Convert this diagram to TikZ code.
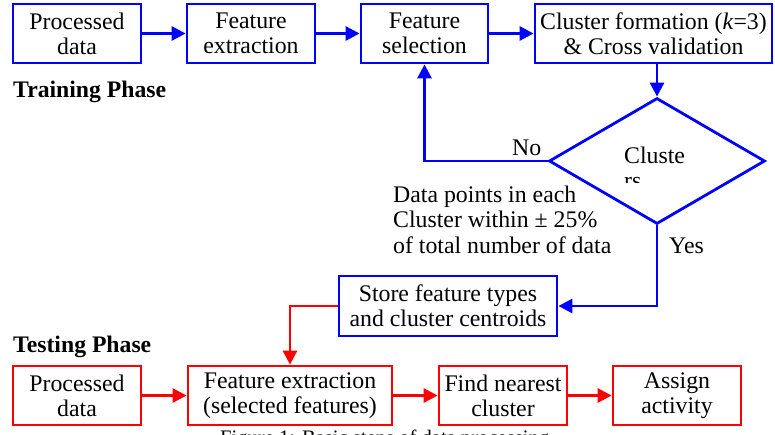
\documentclass[tikz,border=0pt]{standalone}
\usepackage{fontspec}
\setmainfont{Liberation Serif}
\usetikzlibrary{arrows.meta,shapes.geometric}

\definecolor{trainblue}{RGB}{0,0,255}
\definecolor{testred}{RGB}{255,0,0}

\tikzset{
  txt/.style={font=\fontsize{23.8}{25}\selectfont},
  box/.style={txt, draw, line width=2.8pt, align=center, inner sep=0pt,
              minimum height=59pt},
  trainbox/.style={box, draw=trainblue},
  testbox/.style={box, draw=testred},
  flow/.style={line width=2.8pt, -{Triangle[length=14pt,width=14pt]}},
  trainflow/.style={flow, draw=trainblue},
  testflow/.style={flow, draw=testred},
  phase/.style={font=\fontsize{23.7}{25}\selectfont\bfseries, anchor=base west, inner sep=0pt},
  lbl/.style={txt, anchor=base west, inner sep=0pt},
}

\begin{document}
\begin{tikzpicture}[x=1pt,y=-1pt]
\useasboundingbox (0,0) rectangle (775,434);

% ---- training phase ----
\node[trainbox, minimum width=128pt] (tp)  at (77,33.5)    {Processed\\data};
\node[trainbox, minimum width=128pt] (tfe) at (251,33.5)   {Feature\\extraction};
\node[trainbox, minimum width=127pt] (tfs) at (424.5,33.5) {Feature\\selection};
\node[trainbox, minimum width=237pt] (tcf) at (653.5,33.5) {Cluster formation (\textit{k}=3)\\\& Cross validation};

\node[phase] (trainlbl) at (13,97) {Training Phase};

\node[draw=trainblue, line width=2.8pt, diamond, aspect=1.714,
      minimum width=216pt, minimum height=126pt, inner sep=0pt] (dec) at (657,161) {};

% decision text, its second line clipped by the text frame
\begin{scope}
  \clip (600,140) rectangle (720,182);
  \node[lbl] (dtop) at (624,163) {Cluste};
  \node[lbl] (dbot) at (624,188) {rs};
\end{scope}

\node[lbl] (data1) at (393,202)   {Data points in each};
\node[lbl] (data2) at (393,227.5) {Cluster within ± 25\%};
\node[lbl] (data3) at (393,253)   {of total number of data};

\node[lbl] (nolbl)  at (512,155) {No};
\node[lbl] (yeslbl) at (669,253) {Yes};

\node[trainbox, minimum width=218pt, minimum height=60pt] (st) at (448,306)
  {Store feature types\\and cluster centroids};

\draw[trainflow] (tp) -- (tfe);
\draw[trainflow] (tfe) -- (tfs);
\draw[trainflow] (tfs) -- (tcf);
\draw[trainflow] (dec.north |- tcf.south) -- (dec.north);
\draw[trainflow] (dec.west) -| (tfs.south);
\draw[trainflow] (dec.south) |- (st.east);

% ---- testing phase ----
\node[phase] (testlbl) at (13,352) {Testing Phase};

\node[testbox, minimum width=128pt] (rp)  at (77,395.5)  {Processed\\data};
\node[testbox, minimum width=204pt] (rfe) at (290,395.5) {Feature extraction\\(selected features)};
\node[testbox, minimum width=128pt] (rfn) at (503,395.5) {Find nearest\\cluster};
\node[testbox, minimum width=128pt] (ra)  at (677,395.5) {Assign\\activity};

\draw[testflow] (st.west) -| (rfe.north);
\draw[testflow] (rp) -- (rfe);
\draw[testflow] (rfe) -- (rfn);
\draw[testflow] (rfn) -- (ra);

% caption, running off the lower edge
\node[font=\fontsize{20.6}{24}\selectfont, anchor=base west, inner sep=0pt] (cap)
  at (220,444) {Figure 1: Basic steps of data processing};
\end{tikzpicture}
\end{document}
